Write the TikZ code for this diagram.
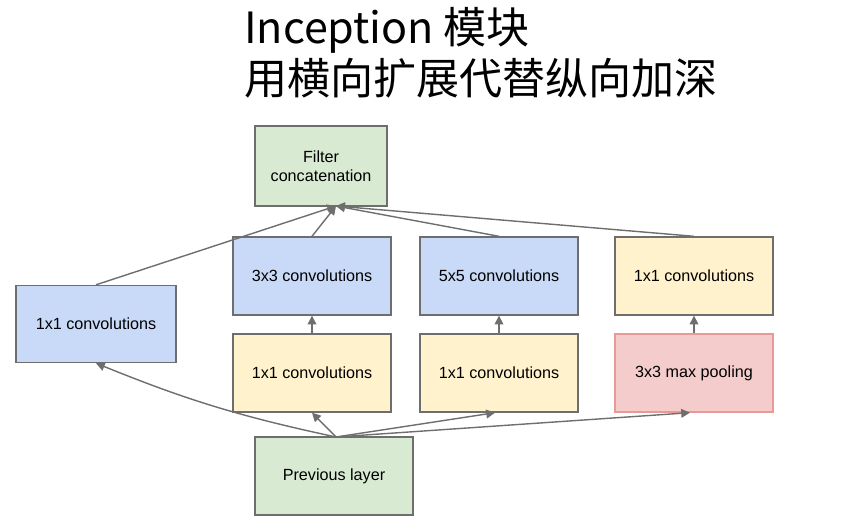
\documentclass[tikz,border=0pt]{standalone}
\usepackage{fontspec}
\setmainfont{Liberation Sans}
\newfontfamily\cjk{Noto Sans CJK SC}
\usetikzlibrary{arrows.meta}
\definecolor{boxgreen}{RGB}{217,234,211}
\definecolor{boxblue}{RGB}{201,218,248}
\definecolor{boxyellow}{RGB}{255,242,204}
\definecolor{boxred}{RGB}{244,204,204}
\definecolor{edgered}{RGB}{234,153,153}
\definecolor{edgegray}{RGB}{110,110,110}
\tikzset{
  layer/.style={draw=edgegray, line width=0.8pt, align=center, font=\fontsize{9.2}{11}\selectfont,
                minimum width=3.16cm, minimum height=1.56cm, inner sep=1pt},
  flow/.style={draw=edgegray, line width=0.8pt, -{Triangle[length=5pt,width=5pt]}}
}
\begin{document}
\begin{tikzpicture}[x=0.02cm,y=-0.02cm]
  \useasboundingbox (0,0) rectangle (852,520);
  % title
  \node[anchor=west, font=\cjk\fontsize{24.5}{29}\selectfont] (title1) at (238,30) {Inception 模块};
  \node[anchor=west, font=\cjk\fontsize{24.5}{29}\selectfont] (title2) at (238,78) {用横向扩展代替纵向加深};
  % layers
  \node[layer, fill=boxgreen, minimum width=2.64cm, minimum height=1.6cm] (concat) at (321,166) {Filter\\concatenation};
  \node[layer, fill=boxblue] (conv3) at (312,276) {3x3 convolutions};
  \node[layer, fill=boxblue] (conv5) at (499,276) {5x5 convolutions};
  \node[layer, fill=boxyellow] (convp) at (694,276) {1x1 convolutions};
  \node[layer, fill=boxblue, minimum width=3.2cm, minimum height=1.54cm] (conv1) at (96,324) {1x1 convolutions};
  \node[layer, fill=boxyellow] (red3) at (312,373) {1x1 convolutions};
  \node[layer, fill=boxyellow] (red5) at (499,373) {1x1 convolutions};
  \node[layer, fill=boxred, draw=edgered] (pool) at (694,373) {3x3 max pooling};
  \node[layer, fill=boxgreen] (prev) at (334,476) {Previous layer};
  % connectors
  \coordinate (top) at (336,206);
  \coordinate (bot) at (336,437);
  \draw[flow] (bot) to[bend left=5] (conv1.south);
  \draw[flow] (bot) -- (red3.south);
  \draw[flow] (bot) -- ([xshift=-0.08cm]red5.south);
  \draw[flow] (bot) -- ([xshift=-0.08cm]pool.south);
  \draw[flow] (red3) -- (conv3);
  \draw[flow] (red5) -- (conv5);
  \draw[flow] (pool) -- (convp);
  \draw[flow] (conv1.north) -- (top);
  \draw[flow] (conv3.north) -- (top);
  \draw[flow] (conv5.north) -- (top);
  \draw[flow] (convp.north) -- (top);
\end{tikzpicture}
\end{document}
